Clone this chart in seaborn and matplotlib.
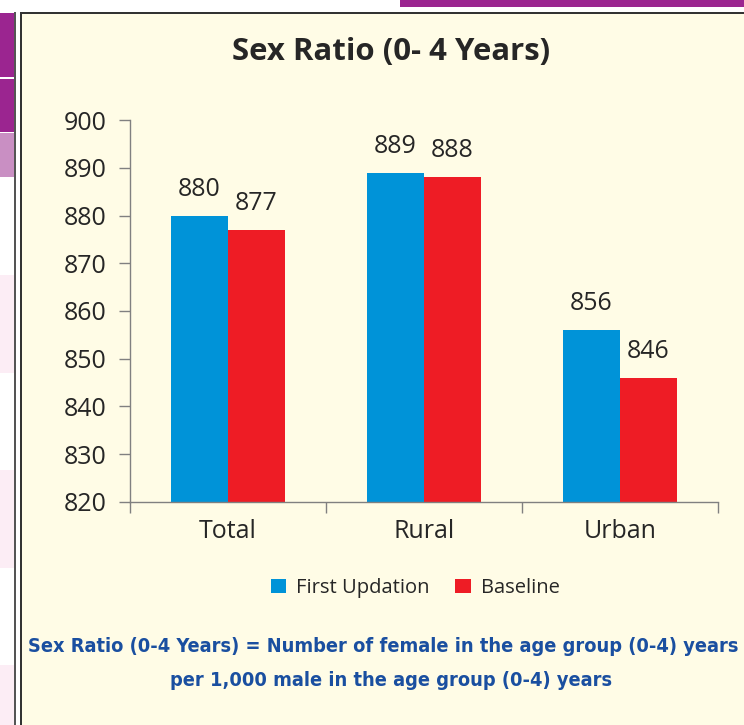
import pandas as pd
import seaborn as sns
import matplotlib.pyplot as plt
from matplotlib.patches import Rectangle

# data
areas = ["Total", "Rural", "Urban"]
first_updation = [880, 889, 856]
baseline = [877, 888, 846]
series_names = ["First Updation", "Baseline"]
colors = ["#0093D8", "#EE1C25"]

title = "Sex Ratio (0- 4 Years)"
note1 = "Sex Ratio (0-4 Years) = Number of female in the age group (0-4) years"
note2 = "per 1,000 male in the age group (0-4) years"

df = pd.DataFrame({
    "area": areas * 2,
    "ratio": first_updation + baseline,
    "series": [series_names[0]] * 3 + [series_names[1]] * 3,
})

sns.set_style("white")
plt.rcParams["font.family"] = ["Open Sans", "DejaVu Sans"]

W, H = 744, 725
bg = "#FFFCE6"
fig = plt.figure(figsize=(W / 100, H / 100), dpi=100)
fig.patch.set_facecolor("white")

def px(x0, y0, x1, y1, **kw):
    # rectangle given in pixel coords (top-left origin)
    fig.patches.append(Rectangle((x0 / W, 1 - y1 / H), (x1 - x0) / W, (y1 - y0) / H,
                                 transform=fig.transFigure, figure=fig,
                                 zorder=-10, **kw))

# panel and page decorations
px(21, 13, W + 5, H + 5, facecolor=bg, edgecolor="none")
px(0, 13, 14, 77, facecolor="#9B2590", edgecolor="none")
px(0, 79, 14, 132, facecolor="#9B2590", edgecolor="none")
px(0, 133, 14, 177, facecolor="#C98FC3", edgecolor="none")
for y0, y1 in [(275, 373), (470, 568), (665, H)]:
    px(0, y0, 14, y1, facecolor="#FCEDF5", edgecolor="none")
px(14, 12, 15.5, H, facecolor="#555555", edgecolor="none")
px(400, 0, W, 7, facecolor="#9B2590", edgecolor="none")
px(20, 11.5, W, 13.5, facecolor="#333333", edgecolor="none")
px(19.5, 11.5, 21.5, H, facecolor="#333333", edgecolor="none")

ax = fig.add_axes([130 / W, 1 - 502 / H, (718 - 130) / W, (502 - 120) / H])
ax.set_facecolor("none")
sns.barplot(data=df, x="area", y="ratio", hue="series", palette=colors,
            width=0.58, saturation=1, linewidth=0, edgecolor="none",
            ax=ax, legend=True)

ax.set_ylim(820, 900)
ax.set_xlim(-0.5, 2.5)
ax.set_yticks(range(820, 901, 10))
ax.set_xlabel("")
ax.set_ylabel("")
for s in ["top", "right"]:
    ax.spines[s].set_visible(False)
for s in ["left", "bottom"]:
    ax.spines[s].set_color("#808080")
    ax.spines[s].set_linewidth(1)
ax.tick_params(axis="y", direction="out", length=8, color="#808080", width=1,
               labelsize=18, labelcolor="#262626", pad=9, left=True)
ax.tick_params(axis="x", which="major", length=0, labelsize=18,
               labelcolor="#262626", pad=12)
ax.set_xticks([-0.5, 0.5, 1.5, 2.5], minor=True)
ax.tick_params(axis="x", which="minor", direction="out", length=8,
               color="#808080", width=1, bottom=True)

for cont in ax.containers:
    ax.bar_label(cont, fmt="%d", padding=10, fontsize=18, color="#262626")

ax.legend(loc="center", bbox_to_anchor=(415 / W, 1 - 588 / H),
          bbox_transform=fig.transFigure, ncol=2, frameon=False,
          fontsize=14.5, handlelength=0.75, handleheight=0.75,
          handletextpad=0.5, columnspacing=1.3, labelcolor="#262626")

fig.text(391 / W, 1 - 52 / H, title, ha="center", va="center",
         fontsize=22.4, fontweight="bold", color="#262626")

note_font = ["DejaVu Sans", "Liberation Sans"]
fig.text(28 / W, 1 - 646 / H, note1, ha="left", va="center", fontsize=14.3,
         fontweight="bold", color="#1A4FA0", family=note_font, fontstretch="condensed")
fig.text(391 / W, 1 - 680 / H, note2, ha="center", va="center", fontsize=14.3,
         fontweight="bold", color="#1A4FA0", family=note_font, fontstretch="condensed")

fig.savefig("out.png", dpi=100, facecolor=fig.get_facecolor())
